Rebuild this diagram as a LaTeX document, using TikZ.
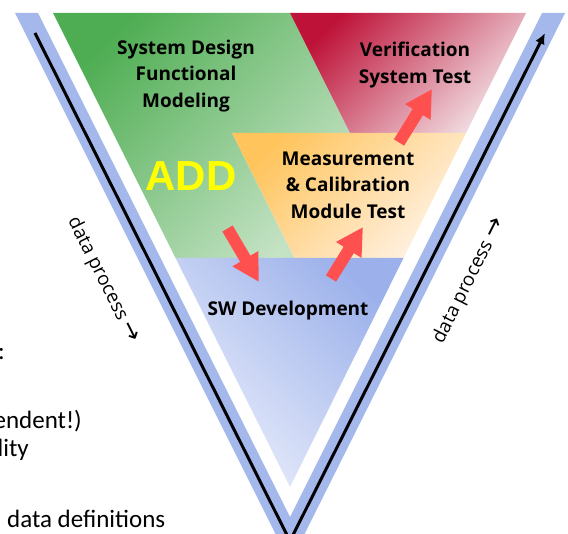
\documentclass[tikz,border=0pt]{standalone}
\usepackage{fontspec}
\setmainfont{Open Sans}
\newfontfamily\slidefont{Carlito}
\newfontfamily\addfont{Liberation Sans}
\newfontfamily\arrowfont{DejaVu Sans}
\usepackage{tikz}
\usetikzlibrary{arrows.meta}
\definecolor{band}{HTML}{A4B8EC}
\definecolor{arrowred}{HTML}{FF5050}
\definecolor{greenA}{HTML}{4EAD52}
\definecolor{greenB}{HTML}{C4E2C4}
\definecolor{redA}{HTML}{BE1238}
\definecolor{redB}{HTML}{F2E2E6}
\definecolor{orangeA}{HTML}{FFC45C}
\definecolor{orangeB}{HTML}{FFF2E4}
\definecolor{blueA}{HTML}{9CB1EB}
\definecolor{blueB}{HTML}{EAEEFB}
\definecolor{addyellow}{HTML}{FFFF00}
\tikzset{
  vband/.style={fill=band},
  flow/.style={line width=3pt, draw=black, -{Latex[length=11pt,width=10pt]}},
  push/.style={line width=12pt, draw=arrowred, -{Triangle[length=27pt,width=28pt]}},
  stage/.style={font=\bfseries\fontsize{19}{26.5}\selectfont, align=center},
  proc/.style={font=\fontsize{19}{22}\selectfont},
  slide/.style={font=\slidefont\fontsize{25}{30}\selectfont, inner sep=0pt}
}

\begin{document}
\begin{tikzpicture}[x=1pt,y=-1pt]
  \clip (0,0) rectangle (568,534);

  % outer V band and data flow line
  \fill[vband] (15,13) -- (290,563) -- (565,13) -- (542,13) -- (290,517) -- (38,13) -- cycle;
  \coordinate (flowin) at (35,33);
  \coordinate (flowtip) at (290,541);
  \coordinate (flowout) at (545,33);
  \draw[flow] (flowin) -- (flowtip) -- (flowout);

  % stages
  \shade[top color=greenA, bottom color=greenB, shading angle=45]
    (53,13) -- (290,13) -- (350,133) -- (232,133) -- (294.5,258) -- (175.5,258) -- cycle;
  \shade[top color=redA, bottom color=redB, shading angle=45]
    (290,13) -- (526,13) -- (466,133) -- (350,133) -- cycle;
  \shade[top color=orangeA, bottom color=orangeB, shading angle=45]
    (232,133) -- (466,133) -- (403.5,258) -- (294.5,258) -- cycle;
  \shade[top color=blueA, bottom color=blueB, shading angle=-45]
    (175.5,258) -- (403.5,258) -- (290,487) -- cycle;

  \node[stage] (design) at (186,76) {System Design\\Functional\\Modeling};
  \node[stage] (verif) at (415,65) {Verification\\System Test};
  \node[stage] (calib) at (348,185) {Measurement\\\& Calibration\\Module Test};
  \node[stage] (swdev) at (288,311) {SW Development};
  \node[font=\addfont\bfseries\fontsize{42}{42}\selectfont, text=addyellow] (add) at (191,176) {ADD};

  % hand-over arrows
  \coordinate (d1) at (227.5,228.5); \coordinate (d2) at (259,282);
  \coordinate (u1) at (331,278.5);   \coordinate (u2) at (363,227);
  \coordinate (v1) at (399,142.5);   \coordinate (v2) at (432,89);
  \draw[push] (d1) -- (d2);
  \draw[push] (u1) -- (u2);
  \draw[push] (v1) -- (v2);

  \node[proc, rotate=-63.43] (procin) at (103,280) {data process {\arrowfont\fontsize{24}{24}\selectfont →}};
  \node[proc, rotate=63.43] (procout) at (469,281) {data process {\arrowfont\fontsize{24}{24}\selectfont →}};

  % slide text behind
  \node[slide, anchor=base east] (colon) at (5,360) {:};
  \node[slide, anchor=base east] (indep) at (82,429) {endent!)};
  \node[slide, anchor=base east] (qual) at (29,457) {lity};
  \node[slide, anchor=base west] (defs) at (7,528) {data definitions};
\end{tikzpicture}
\end{document}
